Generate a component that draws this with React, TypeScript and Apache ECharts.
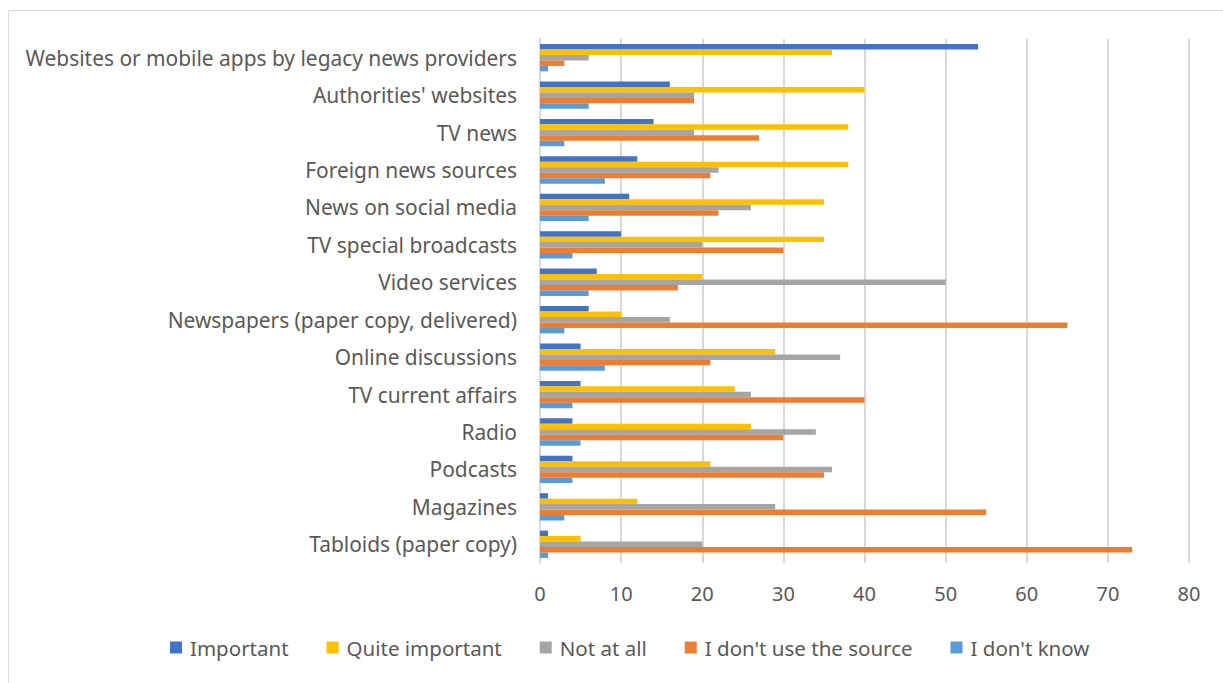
import React, { useEffect, useRef } from "react";
import * as echarts from "echarts";

const categories = [
  "Websites or mobile apps by legacy news providers",
  "Authorities' websites",
  "TV news",
  "Foreign news sources",
  "News on social media",
  "TV special broadcasts",
  "Video services",
  "Newspapers (paper copy, delivered)",
  "Online discussions",
  "TV current affairs",
  "Radio",
  "Podcasts",
  "Magazines",
  "Tabloids (paper copy)",
];

const seriesNames = ["Important", "Quite important", "Not at all", "I don't use the source", "I don't know"];

const important = [54, 16, 14, 12, 11, 10, 7, 6, 5, 5, 4, 4, 1, 1];
const quiteImportant = [36, 40, 38, 38, 35, 35, 20, 10, 29, 24, 26, 21, 12, 5];
const notAtAll = [6, 19, 19, 22, 26, 20, 50, 16, 37, 26, 34, 36, 29, 20];
const dontUse = [3, 19, 27, 21, 22, 30, 17, 65, 21, 40, 30, 35, 55, 73];
const dontKnow = [1, 6, 3, 8, 6, 4, 6, 3, 8, 4, 5, 4, 3, 1];

const colors = ["#4472C4", "#FFC000", "#A5A5A5", "#ED7D31", "#5B9BD5"];

export default function App() {
  const ref = useRef<HTMLDivElement>(null);
  useEffect(() => {
    if (!ref.current) return;
    const chart = echarts.init(ref.current, undefined, { renderer: "svg" });
    const values = [important, quiteImportant, notAtAll, dontUse, dontKnow];
    const font = "Noto Sans";
    chart.setOption({
      animation: false,
      backgroundColor: "#ffffff",
      textStyle: { fontFamily: font },
      grid: { left: 540, right: 34, top: 39, bottom: 120, containLabel: false },
      legend: {
        bottom: 20,
        left: 165,
        itemWidth: 12,
        itemHeight: 12,
        itemGap: 38,
        icon: "rect",
        textStyle: { fontSize: 20.5, color: "#595959", fontFamily: font, padding: [0, 0, 0, 3] },
        data: seriesNames,
      },
      xAxis: {
        type: "value",
        min: 0,
        max: 80,
        interval: 10,
        axisLine: { show: false },
        axisTick: { show: false },
        splitLine: { show: true, lineStyle: { color: "#d9d9d9", width: 2 } },
        axisLabel: { fontSize: 20, color: "#595959", margin: 20, fontFamily: font },
      },
      yAxis: {
        type: "category",
        data: categories,
        inverse: true,
        axisLine: { show: true, lineStyle: { color: "#d9d9d9", width: 2 } },
        axisTick: { show: false },
        axisLabel: { fontSize: 20.9, color: "#595959", margin: 23, fontFamily: font },
      },
      series: seriesNames.map((name, i) => ({
        name,
        type: "bar",
        data: values[i],
        barGap: "0%",
        barCategoryGap: "27%",
        itemStyle: { color: colors[i] },
      })),
      graphic: [
        {
          type: "rect",
          shape: { x: 8.5, y: 10.5, width: 1400, height: 800 },
          style: { fill: "none", stroke: "#d9d9d9", lineWidth: 1 },
          silent: true,
        },
      ],
    });
    return () => chart.dispose();
  }, []);
  return (
    <div
      ref={ref}
      style={{ position: "fixed", left: 0, top: 0, width: 1223, height: 683 }}
    />
  );
}
